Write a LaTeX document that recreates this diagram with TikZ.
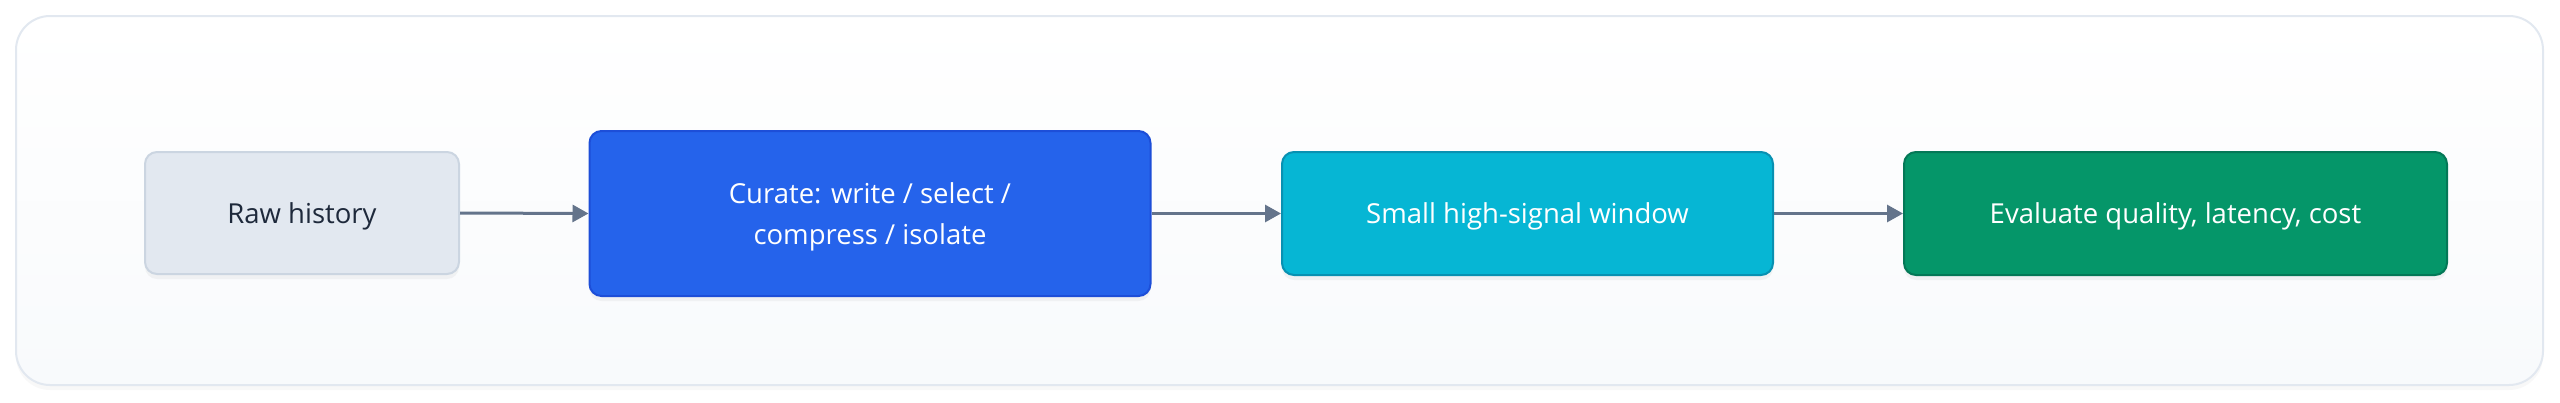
\documentclass[tikz,border=0pt]{standalone}
\usepackage{fontspec}
\setmainfont{Open Sans}
\usetikzlibrary{arrows.meta,shadows}
\definecolor{outerfill}{HTML}{F8FAFC}
\definecolor{outerdraw}{HTML}{E2E8F0}
\definecolor{rawfill}{HTML}{E2E8F0}
\definecolor{rawdraw}{HTML}{CBD5E1}
\definecolor{rawtext}{HTML}{1E293B}
\definecolor{curfill}{HTML}{2563EB}
\definecolor{curdraw}{HTML}{1D4ED8}
\definecolor{smfill}{HTML}{06B6D4}
\definecolor{smdraw}{HTML}{0891B2}
\definecolor{evfill}{HTML}{059669}
\definecolor{evdraw}{HTML}{047857}
\definecolor{arr}{HTML}{64748B}
\tikzset{
  box/.style={rounded corners=12pt, line width=2pt, align=center,
    font=\fontsize{27.5}{41.5}\selectfont, inner sep=0pt,
    drop shadow={opacity=0.08, shadow xshift=0pt, shadow yshift=-5pt}},
  conn/.style={draw=arr, line width=3pt, -{Triangle[length=16pt,width=17pt]}}
}
\begin{document}
\begin{tikzpicture}[x=1pt,y=-1pt]
\useasboundingbox (0,0) rectangle (2560,402);
\fill[white] (0,0) rectangle (2560,402);
\node[draw=outerdraw, line width=2pt, rounded corners=34pt, top color=white, bottom color=outerfill,
  minimum width=2527pt, minimum height=369pt, inner sep=0pt,
  drop shadow={opacity=0.05, shadow xshift=0pt, shadow yshift=-5pt}] (outer) at (1279.5,200.5) {};
\node[box, text height=27pt, fill=rawfill, draw=rawdraw, text=rawtext, minimum width=314pt, minimum height=122pt] (raw) at (302,213) {Raw history};
\node[box, text height=69pt, fill=curfill, draw=curdraw, text=white, minimum width=561pt, minimum height=165pt] (cur) at (870,213.5) {Curate: write / select /\\compress / isolate};
\node[box, text height=27pt, fill=smfill, draw=smdraw, text=white, minimum width=491pt, minimum height=123pt] (sm) at (1527.5,213.5) {Small high-signal window};
\node[box, text height=27pt, fill=evfill, draw=evdraw, text=white, minimum width=543pt, minimum height=123pt] (ev) at (2175.5,213.5) {Evaluate quality, latency, cost};
\draw[conn] (raw.east) -- (cur.west);
\draw[conn] (cur.east) -- (sm.west);
\draw[conn] (sm.east) -- (ev.west);
\end{tikzpicture}
\end{document}
